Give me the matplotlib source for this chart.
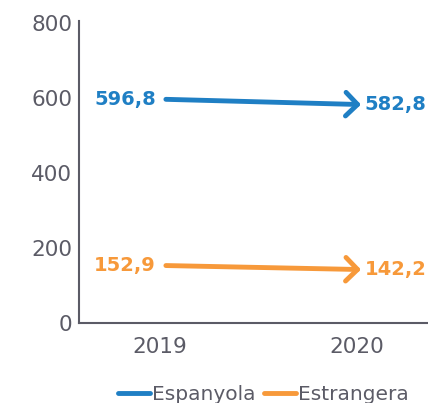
import matplotlib.pyplot as plt

years = [2019, 2020]
espanyola = [596.8, 582.8]
estrangera = [152.9, 142.2]
series_names = ['Espanyola', 'Estrangera']
colors = ['#1f7fc4', '#f7993a']
yticks = [0, 200, 400, 600, 800]
grey = '#5b5b66'

plt.rcParams['font.family'] = ['DejaVu Sans']

fig = plt.figure(figsize=(4.28, 4.03), dpi=100)
ax = fig.add_axes([0.185, 0.199, 0.815, 0.748])

for vals, col, name in zip([espanyola, estrangera], colors, series_names):
    ax.annotate('', xy=(years[1] + 0.02, vals[1]), xytext=(years[0] + 0.03, vals[0]),
                arrowprops=dict(arrowstyle='->,head_length=0.85,head_width=0.85',
                                color=col, lw=3.5, capstyle='round',
                                joinstyle='round', shrinkA=0, shrinkB=0))
    ax.plot([], [], color=col, lw=3.5, solid_capstyle='round', label=name)
    ax.text(years[0] - 0.02, vals[0], f'{vals[0]:.1f}'.replace('.', ','),
            color=col, fontsize=14, fontweight='bold', ha='right', va='center')
    ax.text(years[1] + 0.04, vals[1], f'{vals[1]:.1f}'.replace('.', ','),
            color=col, fontsize=14, fontweight='bold', ha='left', va='center')

ax.set_xlim(2018.59, 2020.36)
ax.set_ylim(0, 805)
ax.set_yticks(yticks)
ax.set_xticks(years)
ax.set_xticklabels([str(y) for y in years])
ax.tick_params(length=0, colors=grey, labelsize=15.5, pad=5)
ax.tick_params(axis='x', pad=10)
for s in ['top', 'right']:
    ax.spines[s].set_visible(False)
for s in ['left', 'bottom']:
    ax.spines[s].set_color(grey)
    ax.spines[s].set_linewidth(1.5)

leg = fig.legend(loc='center', bbox_to_anchor=(0.615, 0.02), ncol=2, frameon=False,
                 fontsize=14.5, handlelength=1.6, handletextpad=0.1, columnspacing=0.4,
                 labelcolor=grey)

fig.savefig('out.png', dpi=100)
